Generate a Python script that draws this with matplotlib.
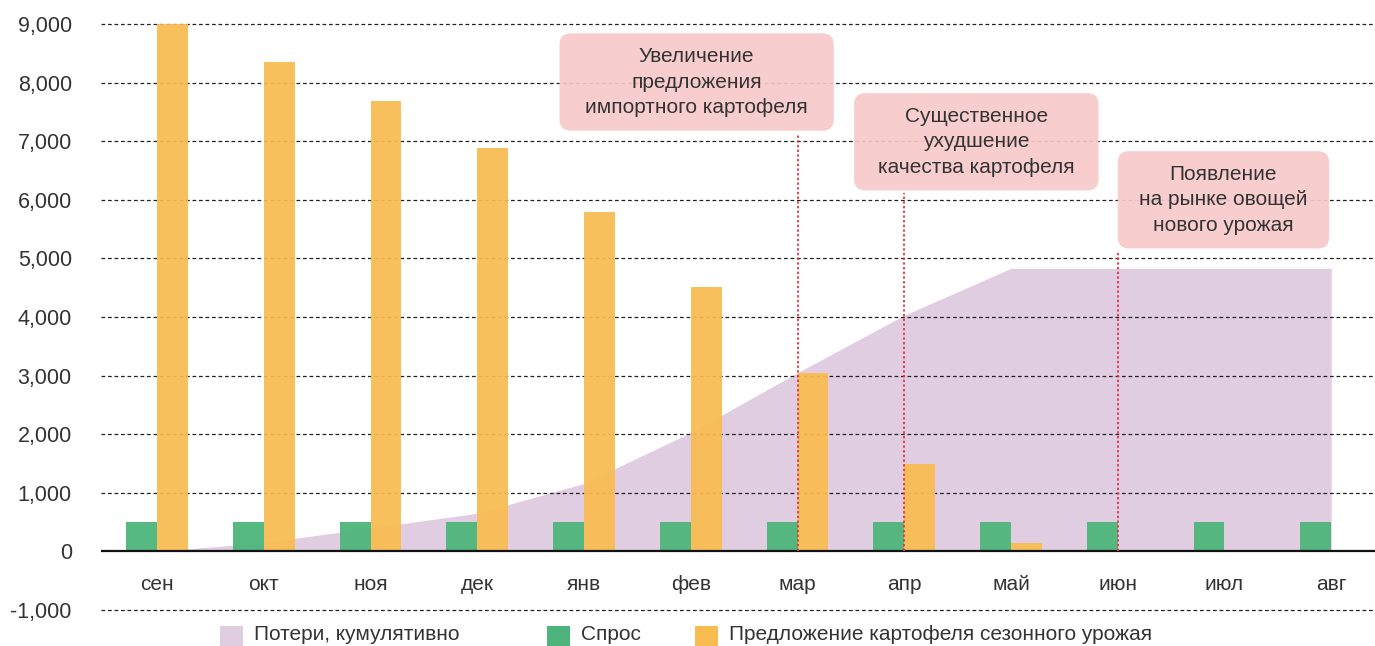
import matplotlib
matplotlib.use("Agg")
import matplotlib.pyplot as plt
from matplotlib.patches import FancyBboxPatch, Rectangle
from matplotlib.ticker import FuncFormatter
import numpy as np

plt.rcParams['font.family'] = ['Liberation Sans', 'DejaVu Sans']

months = ['сен', 'окт', 'ноя', 'дек', 'янв', 'фев', 'мар', 'апр', 'май', 'июн', 'июл', 'авг']
demand = [500, 500, 500, 500, 500, 500, 500, 500, 500, 500, 500, 500]
supply = [9000, 8350, 7680, 6880, 5785, 4505, 3040, 1485, 150, 0, 0, 0]
losses = [0, 150, 400, 650, 1160, 2030, 3050, 4030, 4830, 4830, 4830, 4830]

events = ['Увеличение\nпредложения\nимпортного картофеля',
          'Существенное\nухудшение\nкачества картофеля',
          'Появление\nна рынке овощей\nнового урожая']
event_month = [6, 7, 9]
# box extents: x0, x1 (in category units), y0, y1 (in data units)
event_box = [(3.77, 6.34, 7180, 8840),
             (6.53, 8.82, 6160, 7820),
             (9.00, 10.98, 5170, 6830)]

legend_labels = ['Потери, кумулятивно', 'Спрос', 'Предложение картофеля сезонного урожая']

C_ORANGE = '#f8bc50'
C_GREEN = '#4db57b'
C_PURPLE = '#e0cde2'
C_PINK = '#f8c9c9'
C_RED = '#e8323f'
C_TEXT = '#333333'

W, H = 1375, 646
fig = plt.figure(figsize=(W / 100, H / 100), dpi=100)
ax = fig.add_axes([101 / W, 36 / H, 1274 / W, 586 / H])

x = np.arange(len(months))
bw = 0.29

ax.fill_between(x, 0, losses, color=C_PURPLE, lw=0, zorder=1)
for v in range(-1000, 10000, 1000):
    if v != 0:
        ax.axhline(v, color='#222222', lw=0.9, ls=(0, (3, 2.2)), zorder=2, clip_on=False)
ax.bar(x - bw / 2, demand, width=bw, color=C_GREEN, alpha=0.95, zorder=3)
ax.bar(x + bw / 2, supply, width=bw, color=C_ORANGE, alpha=0.93, zorder=3)
ax.axhline(0, color='#111111', lw=1.6, zorder=4)

ax.set_xlim(-0.525, 11.41)
ax.set_ylim(-1000, 9000)

# pixels -> data ratio for rounding corners
px_x = (11.41 + 0.525) / 1274
px_y = 10000 / 586
aspect = px_y / px_x

for txt, m, (x0, x1, y0, y1) in zip(events, event_month, event_box):
    box = FancyBboxPatch((x0, y0), x1 - x0, y1 - y0,
                         boxstyle='round,pad=0,rounding_size=%f' % (11 * px_x),
                         mutation_aspect=aspect, fc=C_PINK, ec='none',
                         alpha=0.92, zorder=5)
    ax.add_patch(box)
    ax.text((x0 + x1) / 2, (y0 + y1) / 2, txt, ha='center', va='center',
            fontsize=15, color=C_TEXT, linespacing=1.42, zorder=6)
    ax.plot([m, m], [0, y0 - 50], color=C_RED, lw=1.3, ls=(0, (1.3, 1.3)), zorder=6)

ax.set_xticks(x)
ax.set_xticklabels(months)
ax.set_yticks(range(-1000, 10000, 1000))
ax.yaxis.set_major_formatter(FuncFormatter(lambda v, p: '{:,.0f}'.format(v)))
ax.tick_params(axis='x', length=0, pad=-25, labelsize=15, labelcolor=C_TEXT)
ax.tick_params(axis='y', length=0, pad=21, labelsize=15.5, labelcolor=C_TEXT)
for s in ax.spines.values():
    s.set_visible(False)

# legend along the bottom edge
leg_x = [220, 547, 695]
leg_colors = [C_PURPLE, C_GREEN, C_ORANGE]
for lx, lc, lt in zip(leg_x, leg_colors, legend_labels):
    fig.patches.append(Rectangle((lx / W, 0), 23 / W, 20 / H, transform=fig.transFigure,
                                 fc=lc, ec='none', figure=fig))
    fig.text((lx + 34) / W, 2 / H, lt, ha='left', va='bottom', fontsize=15, color=C_TEXT)

fig.savefig('out.png', dpi=100)
